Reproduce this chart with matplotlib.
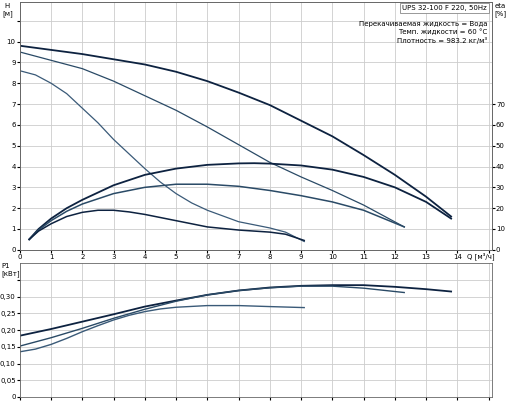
import matplotlib
matplotlib.use("Agg")
import matplotlib.pyplot as plt

q_h1 = [0, 1, 2, 3, 4, 5, 6, 7, 8, 9, 10, 11, 12, 13, 13.8]
h1 = [9.8, 9.6, 9.4, 9.15, 8.9, 8.55, 8.1, 7.55, 6.95, 6.2, 5.45, 4.55, 3.6, 2.55, 1.6]
q_h2 = [0, 1, 2, 3, 4, 5, 6, 7, 8, 9, 10, 11, 12.3]
h2 = [9.5, 9.1, 8.7, 8.1, 7.4, 6.7, 5.9, 5.05, 4.2, 3.5, 2.85, 2.15, 1.1]
q_h3 = [0, 0.5, 1, 1.5, 2, 2.5, 3, 3.5, 4, 4.5, 5, 5.5, 6, 7, 8, 8.5, 9.1]
h3 = [8.6, 8.4, 8.0, 7.5, 6.8, 6.1, 5.3, 4.6, 3.9, 3.25, 2.7, 2.25, 1.9, 1.35, 1.05, 0.85, 0.4]

q_e1 = [0.3, 0.6, 1, 1.5, 2, 3, 4, 5, 6, 7, 7.5, 8, 9, 10, 11, 12, 13, 13.8]
e1 = [5, 10, 15, 20, 24, 31, 36, 39, 40.8, 41.5, 41.6, 41.4, 40.5, 38.5, 35, 30, 23, 15]
q_e2 = [0.3, 0.6, 1, 1.5, 2, 3, 4, 5, 6, 7, 8, 9, 10, 11, 12.3]
e2 = [5, 9.5, 14, 18.5, 22, 27, 30, 31.5, 31.5, 30.5, 28.5, 26, 23, 19, 11]
q_e3 = [0.3, 0.6, 1, 1.5, 2, 2.5, 3, 3.5, 4, 5, 6, 7, 8, 8.5, 9.1]
e3 = [5, 9, 12.5, 16, 18, 19, 19, 18.2, 17, 14, 11, 9.5, 8.5, 7.5, 4.5]

q_p1 = [0, 1, 2, 3, 4, 5, 6, 7, 8, 9, 10, 11, 12, 13, 13.8]
p1 = [0.183, 0.203, 0.225, 0.247, 0.27, 0.288, 0.305, 0.318, 0.327, 0.332, 0.334, 0.334, 0.329, 0.322, 0.315]
q_p2 = [0, 1, 2, 3, 4, 5, 6, 7, 8, 9, 10, 11, 12.3]
p2 = [0.152, 0.177, 0.205, 0.235, 0.262, 0.286, 0.305, 0.318, 0.326, 0.331, 0.331, 0.325, 0.312]
q_p3 = [0, 0.5, 1, 1.5, 2, 2.5, 3, 3.5, 4, 4.5, 5, 6, 7, 8, 9.1]
p3 = [0.135, 0.143, 0.157, 0.175, 0.195, 0.213, 0.23, 0.244, 0.255, 0.263, 0.268, 0.273, 0.273, 0.27, 0.267]

fig = plt.figure(figsize=(5.08, 4.01), dpi=100)
ax = fig.add_axes([0.039, 0.377, 0.929, 0.618])
ax2 = ax.twinx()
bx = fig.add_axes([0.039, 0.01, 0.929, 0.334])

c1, c2, c3 = "#0d2240", "#2a4a66", "#3a5a78"
fs = 5

ax.plot(q_h1, h1, color=c1, lw=1.3)
ax.plot(q_h2, h2, color=c2, lw=0.9)
ax.plot(q_h3, h3, color=c3, lw=0.9)
ax2.plot(q_e1, e1, color=c1, lw=1.3)
ax2.plot(q_e2, e2, color=c2, lw=1.1)
ax2.plot(q_e3, e3, color=c1, lw=1.1)
ax.set_xlim(0, 15.1)
ax.set_ylim(0, 11.9)
ax2.set_ylim(0, 119)
ax.set_xticks(range(0, 16))
ax.set_xticklabels([str(i) for i in range(15)] + [""])
ax.set_yticks(range(0, 12))
ax.set_yticklabels([str(i) for i in range(11)] + [""])
ax2.set_yticks(range(0, 80, 10))
ax.grid(True, color="#cccccc", lw=0.6)
ax.tick_params(labelsize=fs, length=2, pad=1)
ax2.tick_params(labelsize=fs, length=2, pad=1)
ax.text(-0.4, 11.5, "H\n[м]", fontsize=fs, ha="center", va="center")
ax.text(14.3, -0.3, "Q [м³/ч]", fontsize=fs, ha="left", va="center")
ax2.text(15.2, 115, "eta\n[%]", fontsize=fs, ha="left", va="center")
ax.text(14.95, 11.75, "UPS 32-100 F 220, 50Hz", fontsize=fs, ha="right", va="top",
        bbox=dict(facecolor="white", edgecolor="#888888", lw=0.6, pad=1.5))
ax.text(14.95, 11.0, "Перекачиваемая жидкость = Вода\nТемп. жидкости = 60 °C\nПлотность = 983.2 кг/м³",
        fontsize=fs, ha="right", va="top", linespacing=1.3)

bx.plot(q_p1, p1, color=c1, lw=1.3)
bx.plot(q_p2, p2, color=c2, lw=1.0)
bx.plot(q_p3, p3, color=c3, lw=1.0)
bx.set_xlim(0, 15.1)
bx.set_ylim(0, 0.40)
bx.set_xticks(range(0, 16))
bx.set_xticklabels([])
bx.set_yticks([0, 0.05, 0.10, 0.15, 0.20, 0.25, 0.30, 0.35])
bx.set_yticklabels(["0", "0,05", "0,10", "0,15", "0,20", "0,25", "0,30", ""])
bx.grid(True, color="#cccccc", lw=0.6)
bx.tick_params(labelsize=fs, length=2, pad=1)
bx.text(-0.58, 0.38, "P1\n[кВт]", fontsize=fs, ha="left", va="center")
for a in (ax, ax2, bx):
    for s in a.spines.values():
        s.set_color("#666666"); s.set_linewidth(0.6)
fig.savefig("out.png", dpi=100)
